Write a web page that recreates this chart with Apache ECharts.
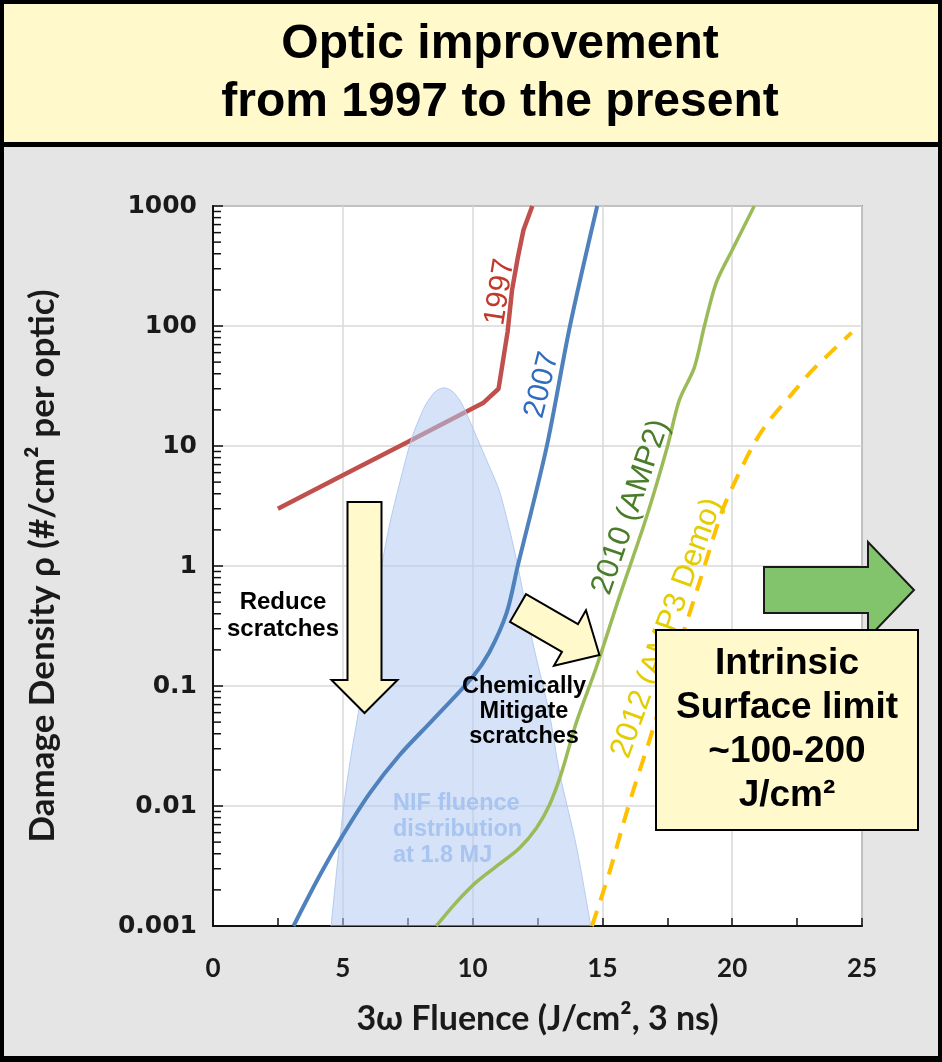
<!DOCTYPE html>
<html>
<head>
<meta charset="utf-8">
<script src="https://cdn.jsdelivr.net/npm/echarts@6/dist/echarts.min.js"></script>
<style>
  html, body { margin: 0; padding: 0; background: #000; }
  #chart { width: 942px; height: 1062px; }
</style>
</head>
<body>
<div id="chart"></div>
<script>
// Laser damage density vs. 3ω fluence for successive optic finishing processes
const fluence1997 = [2.5, 5, 7.5, 10.4, 11, 11.35, 11.52, 11.75, 11.96, 12.3];
const density1997 = [3, 5.7, 10.8, 22.8, 30, 90, 200, 380, 630, 1000];

const fluence2007 = [3.1, 4.12, 5.0, 6.04, 7.19, 8.46, 10.0, 10.65, 11.31, 11.73, 12.85, 13.75, 14.8];
const density2007 = [0.001, 0.00266, 0.0057, 0.0128, 0.0266, 0.052, 0.119, 0.192, 0.406, 0.98, 9.8, 100, 1000];

const fluence2010 = [8.6, 9.38, 10.15, 11.04, 11.81, 12.46, 12.96, 13.42, 14.0, 14.77, 15.65, 16.7, 17.5, 17.96, 18.54, 18.92, 19.38, 20.0, 20.85];
const density2010 = [0.001, 0.00158, 0.00233, 0.00329, 0.00447, 0.00656, 0.0102, 0.0188, 0.05, 0.144, 0.55, 2.56, 9.8, 24, 45, 98, 228, 430, 1000];

const fluence2012 = [14.6, 15.27, 15.77, 16.23, 16.73, 17.7, 18.73, 19.58, 20.0, 20.77, 21.35, 22.2, 23.1, 24.6];
const density2012 = [0.001, 0.0028, 0.0067, 0.0144, 0.031, 0.145, 0.72, 2.75, 4.5, 9.8, 15.5, 25.6, 43, 88];

// NIF fluence distribution at 1.8 MJ (shaded envelope)
const nifFluence = [4.55, 5.0, 5.3, 5.6, 6.0, 6.5, 6.8, 7.2, 7.65, 8.0, 8.2, 8.5, 8.7, 8.9, 9.1, 9.3, 9.55, 9.77, 10.15, 10.6, 11.05, 11.7, 12.3, 12.95, 13.35, 14.0, 14.55];
const nifDensity = [0.001, 0.0087, 0.025, 0.06, 0.2, 1.0, 2.2, 5, 11.5, 18, 22.2, 27.5, 29.7, 30.5, 29.7, 27.5, 23.2, 18.5, 12, 7.1, 4.1, 1.1, 0.24, 0.06, 0.019, 0.0046, 0.001];

const xTickLabels = ['0', '5', '10', '15', '20', '25'];
const yTickLabels = ['0.001', '0.01', '0.1', '1', '10', '100', '1000'];

const pairs = (xs, ys) => xs.map((x, i) => [x, ys[i]]);

const chart = echarts.init(document.getElementById('chart'), null, { renderer: 'canvas' });

const ARIAL = '"Liberation Sans", Arial, sans-serif';
const CALIBRI = 'Lato, "Open Sans", sans-serif';
const VERDANA = '"DejaVu Sans", Verdana, sans-serif';
const PALE = '#fff9cc';

// Block arrow polygon from tail centre, direction (radians, screen), sizes
function blockArrow(tx, ty, ang, len, shaftW, headW, headL) {
  const ux = Math.cos(ang), uy = Math.sin(ang);
  const nx = -uy, ny = ux;
  const s = len - headL;
  const P = (a, b) => [tx + ux * a + nx * b, ty + uy * a + ny * b];
  return [P(0, -shaftW / 2), P(s, -shaftW / 2), P(s, -headW / 2), P(len, 0),
          P(s, headW / 2), P(s, shaftW / 2), P(0, shaftW / 2)];
}

function rotText(x, y, text, color, deg, size) {
  return {
    type: 'text', x: x, y: y, rotation: deg * Math.PI / 180, z: 50,
    style: { text: text, fill: color, font: 'normal ' + size + 'px ' + ARIAL,
             align: 'center', verticalAlign: 'middle' }
  };
}

const option = {
  backgroundColor: '#000',
  animation: false,
  title: {
    text: 'Optic improvement\nfrom 1997 to the present',
    left: 495, top: 11, textAlign: 'center',
    textStyle: { fontFamily: ARIAL, fontWeight: 'bold', fontSize: 48, lineHeight: 58, color: '#000' }
  },
  grid: {
    left: 213, top: 206, width: 649, height: 720,
    show: true, backgroundColor: '#fff', borderColor: '#555', borderWidth: 1.5
  },
  xAxis: {
    type: 'value', min: 0, max: 25, interval: 5,
    name: '3ω Fluence (J/cm², 3 ns)', nameLocation: 'middle', nameGap: 76,
    nameTextStyle: { fontFamily: CALIBRI, fontWeight: 'bold', fontSize: 34, color: '#1a1a1a' },
    axisLine: { lineStyle: { color: '#111', width: 2 } },
    axisTick: { inside: true, length: 8, lineStyle: { color: '#111', width: 1.5 } },
    minorTick: { show: true, splitNumber: 2, length: 8, lineStyle: { color: '#111', width: 1.5 } },
    axisLabel: {
      margin: 30, fontFamily: CALIBRI, fontWeight: 'bold', fontSize: 26, color: '#1a1a1a',
      formatter: v => xTickLabels[Math.round(v / 5)] ?? ''
    },
    splitLine: { lineStyle: { color: '#d9d9d9', width: 1.5 } }
  },
  yAxis: {
    type: 'log', logBase: 10, min: 0.001, max: 1000,
    name: 'Damage Density ρ (#/cm² per optic)', nameLocation: 'middle', nameGap: 153, nameRotate: 90,
    nameTextStyle: { fontFamily: CALIBRI, fontWeight: 'bold', fontSize: 35, color: '#1a1a1a' },
    axisLine: { lineStyle: { color: '#111', width: 2 } },
    axisTick: { inside: true, length: 10, lineStyle: { color: '#111', width: 1.5 } },
    axisLabel: {
      margin: 16, fontFamily: VERDANA, fontWeight: 'bold', fontSize: 25, color: '#1a1a1a',
      formatter: v => yTickLabels[Math.round(Math.log10(v)) + 3] ?? ''
    },
    splitLine: { lineStyle: { color: '#d9d9d9', width: 1.5 } }
  },
  series: [
    {
      name: '1997', type: 'line', z: 2, showSymbol: false, smooth: false,
      data: pairs(fluence1997, density1997),
      lineStyle: { color: '#c0504d', width: 4.5 }
    },
    {
      name: 'NIF fluence distribution', type: 'line', z: 3, showSymbol: false, smooth: 0.3,
      data: pairs(nifFluence, nifDensity),
      lineStyle: { color: '#b4cbef', width: 1 },
      areaStyle: { color: 'rgba(178,202,240,0.78)', origin: 'start' }
    },
    {
      name: '2007', type: 'line', z: 4, showSymbol: false, smooth: 0.3,
      data: pairs(fluence2007, density2007),
      lineStyle: { color: '#4f81bd', width: 4 }
    },
    {
      name: '2010 (AMP2)', type: 'line', z: 4, showSymbol: false, smooth: 0.3,
      data: pairs(fluence2010, density2010),
      lineStyle: { color: '#9bbb59', width: 3.5 }
    },
    {
      name: '2012 (AMP3 Demo)', type: 'line', z: 4, showSymbol: false, smooth: 0.3,
      data: pairs(fluence2012, density2012),
      lineStyle: { color: '#ffc000', width: 4, type: [16, 11] }
    }
  ]
};

chart.setOption(option);

// Panels, log minor ticks and annotations
const x0 = chart.convertToPixel({ xAxisIndex: 0 }, 0);
const minorTicks = [];
for (let k = -3; k < 3; k++) {
  for (let m = 2; m <= 9; m++) {
    const py = chart.convertToPixel({ yAxisIndex: 0 }, m * Math.pow(10, k));
    minorTicks.push({
      type: 'line', z: 20, silent: true,
      shape: { x1: x0, y1: py, x2: x0 + 8, y2: py },
      style: { stroke: '#111', lineWidth: 1.5 }
    });
  }
}

const arrowStyle = { fill: PALE, stroke: '#000', lineWidth: 2 };

chart.setOption({
  graphic: [
    { type: 'rect', z: -100, silent: true, shape: { x: 4, y: 4, width: 934, height: 138 }, style: { fill: PALE } },
    { type: 'rect', z: -100, silent: true, shape: { x: 4, y: 147, width: 934, height: 909 }, style: { fill: '#e5e5e5' } },
    ...minorTicks,
    // Reduce scratches
    { type: 'polygon', z: 60, shape: { points: blockArrow(364.5, 502, Math.PI / 2, 211, 34, 66, 33) }, style: arrowStyle },
    { type: 'text', z: 60, x: 283, y: 616,
      style: { text: 'Reduce\nscratches', fill: '#000', font: 'bold 24px ' + ARIAL, lineHeight: 27, align: 'center', verticalAlign: 'middle' } },
    // Chemically mitigate scratches
    { type: 'polygon', z: 60, shape: { points: blockArrow(518, 608, Math.PI / 6, 94, 32, 64, 34) }, style: arrowStyle },
    { type: 'text', z: 60, x: 524, y: 712,
      style: { text: 'Chemically\nMitigate\nscratches', fill: '#000', font: 'bold 23.5px ' + ARIAL, lineHeight: 25, align: 'center', verticalAlign: 'middle' } },
    // NIF distribution label
    { type: 'text', z: 60, x: 393, y: 830,
      style: { text: 'NIF fluence\ndistribution\nat 1.8 MJ', fill: '#a8c4f0', font: 'bold 23.5px ' + ARIAL, lineHeight: 26, align: 'left', verticalAlign: 'middle' } },
    // Curve labels
    rotText(500, 292, '1997', '#c0392b', 81, 30),
    rotText(542, 385, '2007', '#2e6cc0', 76, 30),
    rotText(631, 507, '2010 (AMP2)', '#4a7d2a', 71, 31),
    rotText(667, 628, '2012 (AMP3 Demo)', '#e3cc00', 70, 31),
    // Intrinsic limit
    { type: 'polygon', z: 70,
      shape: { points: [[764, 567], [868, 567], [868, 542], [914, 590], [868, 638], [868, 613], [764, 613]] },
      style: { fill: '#82c46c', stroke: '#1a1a1a', lineWidth: 2 } },
    { type: 'rect', z: 80, shape: { x: 656, y: 630, width: 262, height: 200 },
      style: { fill: PALE, stroke: '#000', lineWidth: 2 } },
    { type: 'text', z: 81, x: 787, y: 730,
      style: { text: 'Intrinsic\nSurface limit\n~100-200\nJ/cm²', fill: '#000', font: 'bold 37px ' + ARIAL, lineHeight: 44, align: 'center', verticalAlign: 'middle' } }
  ]
});
</script>
</body>
</html>
